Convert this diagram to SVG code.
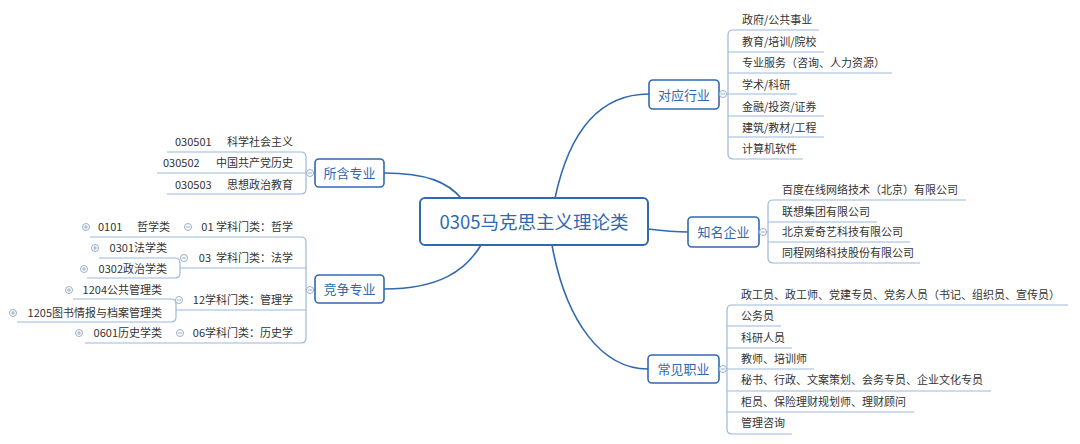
<svg xmlns="http://www.w3.org/2000/svg" width="1080" height="444" viewBox="0 0 1080 444">
<style>
.bg{fill:#ffffff}
.root{fill:#fff;stroke:#3069b0;stroke-width:2}
.main{fill:#fff;stroke:#3069b0;stroke-width:1.6}
.rt{font-family:"Noto Sans CJK SC","Microsoft YaHei",sans-serif;font-size:18.5px;fill:#3069b0;text-anchor:middle}
.mt{font-family:"Noto Sans CJK SC","Microsoft YaHei",sans-serif;font-size:13px;fill:#3069b0;text-anchor:middle}
.t{font-family:"Noto Sans CJK SC","Microsoft YaHei",sans-serif;font-size:11px;fill:#333}
.te{font-family:"Noto Sans CJK SC","Microsoft YaHei",sans-serif;font-size:11px;fill:#333;text-anchor:end}
.curve{fill:none;stroke:#3069b0;stroke-width:1.6}
.ul{fill:none;stroke:#9bb8de;stroke-width:1.2}
.cb{fill:#fff;stroke:#9aaec8;stroke-width:1}
.cm{stroke:#9aaec8;stroke-width:1}
</style>
<defs>
<g id="minus"><circle class="cb" r="3.5"/><line class="cm" x1="-2" y1="0" x2="2" y2="0"/></g>
<g id="plus"><circle class="cb" r="3.5"/><line class="cm" x1="-2" y1="0" x2="2" y2="0"/><line class="cm" x1="0" y1="-2" x2="0" y2="2"/></g>
</defs>
<rect class="bg" x="0" y="0" width="1080" height="444"/>

<g id="connectors">
<path class="curve" d="M384,173 C428,173 448,183 461,198"/>
<path class="curve" d="M384,289 C440,289 466,270 481,245"/>
<path class="curve" d="M555,198 C570,128 602,94 649,94"/>
<path class="curve" d="M648,229 C664,231 674,232 688,232"/>
<path class="curve" d="M552,245 C566,322 602,369 648,369"/>
<!-- 对应行业 bracket -->
<path class="ul" d="M719,94 H728 M733,30 Q728,30 728,35 V154 Q728,159 733,159"/>
<path class="ul" d="M733,30 H819 M728,52 H824 M728,73 H892 M728,94 H797 M728,116 H824 M728,137 H824 M733,159 H803"/>
<!-- 知名企业 bracket -->
<path class="ul" d="M759,232 H768 M773,200 Q768,200 768,205 V258 Q768,263 773,263"/>
<path class="ul" d="M773,200 H966 M768,222 H877 M768,242 H910 M773,263 H920"/>
<!-- 常见职业 bracket -->
<path class="ul" d="M719,369 H727 M732,305 Q727,305 727,310 V429 Q727,434 732,434"/>
<path class="ul" d="M732,305 H1068 M727,326 H781 M727,348 H792 M727,369 H814 M727,391 H991 M727,412 H914 M732,434 H792"/>
<!-- 所含专业 bracket -->
<path class="ul" d="M315,173 H306 M301,152 Q306,152 306,157 V189 Q306,194 301,194"/>
<path class="ul" d="M301,152 H167 M306,173 H157 M301,194 H167"/>
<!-- 竞争专业 bracket -->
<path class="ul" d="M315,290 H306 M301,237 Q306,237 306,242 V338 Q306,343 301,343"/>
<path class="ul" d="M301,237 H90 M306,268 H180 M306,310 H176 M301,343 H85"/>
<!-- 03 sub bracket -->
<path class="ul" d="M175,258 Q180,258 180,263 V273 Q180,278 175,278 M175,258 H99 M175,278 H87"/>
<!-- 12 sub bracket -->
<path class="ul" d="M171,299 Q176,299 176,304 V317 Q176,322 171,322 M171,299 H73 M171,322 H17"/>
</g>

<g id="root">
<rect class="root" x="420" y="198" width="228" height="47" rx="5"/>
<text class="rt" x="534" y="228.5">0305马克思主义理论类</text>
</g>

<g id="node-suohan">
<rect class="main" x="315" y="159" width="69" height="28" rx="4"/>
<text class="mt" x="349.5" y="178">所含专业</text>
<use href="#minus" x="310" y="173"/>
<text class="t" y="146"><tspan x="175">030501</tspan><tspan x="227">科学社会主义</tspan></text>
<text class="t" y="167"><tspan x="163">030502</tspan><tspan x="216">中国共产党历史</tspan></text>
<text class="t" y="189"><tspan x="175">030503</tspan><tspan x="227">思想政治教育</tspan></text>
</g>

<g id="node-jingzheng">
<rect class="main" x="315" y="275" width="69" height="28" rx="4"/>
<text class="mt" x="349.5" y="294">竞争专业</text>
<use href="#minus" x="310" y="290"/>
<g id="sub-01">
<use href="#minus" x="188" y="227"/>
<text class="te" x="293" y="231">01 学科门类：哲学</text>
<use href="#plus" x="86" y="227"/>
<text class="t" y="231"><tspan x="98">0101</tspan><tspan x="137">哲学类</tspan></text>
</g>
<g id="sub-03">
<use href="#minus" x="184" y="258"/>
<text class="te" x="293" y="262" xml:space="preserve">03  学科门类：法学</text>
<use href="#plus" x="95" y="248"/>
<text class="te" x="167" y="252">0301法学类</text>
<use href="#plus" x="84" y="269"/>
<text class="te" x="167" y="273">0302政治学类</text>
</g>
<g id="sub-12">
<use href="#minus" x="179" y="300"/>
<text class="te" x="293" y="304">12学科门类：管理学</text>
<use href="#plus" x="69" y="290"/>
<text class="te" x="162" y="294">1204公共管理类</text>
<use href="#plus" x="13" y="313"/>
<text class="te" x="162" y="317">1205图书情报与档案管理类</text>
</g>
<g id="sub-06">
<use href="#minus" x="180" y="333"/>
<text class="te" x="293" y="337">06学科门类：历史学</text>
<use href="#plus" x="79" y="333"/>
<text class="te" x="162" y="337">0601历史学类</text>
</g>
</g>

<g id="node-hangye">
<rect class="main" x="649" y="80" width="70" height="29" rx="4"/>
<text class="mt" x="684" y="99.5">对应行业</text>
<use href="#minus" x="723" y="94"/>
<text class="t" x="742" y="24">政府/公共事业</text>
<text class="t" x="742" y="46">教育/培训/院校</text>
<text class="t" x="742" y="67">专业服务（咨询、人力资源）</text>
<text class="t" x="742" y="89">学术/科研</text>
<text class="t" x="742" y="111">金融/投资/证券</text>
<text class="t" x="742" y="132">建筑/教材/工程</text>
<text class="t" x="742" y="153">计算机软件</text>
</g>

<g id="node-qiye">
<rect class="main" x="688" y="217" width="71" height="30" rx="4"/>
<text class="mt" x="723.5" y="237">知名企业</text>
<use href="#minus" x="763" y="232"/>
<text class="t" x="782" y="194">百度在线网络技术（北京）有限公司</text>
<text class="t" x="782" y="216">联想集团有限公司</text>
<text class="t" x="782" y="236">北京爱奇艺科技有限公司</text>
<text class="t" x="782" y="257">同程网络科技股份有限公司</text>
</g>

<g id="node-zhiye">
<rect class="main" x="648" y="355" width="71" height="28" rx="4"/>
<text class="mt" x="683.5" y="374">常见职业</text>
<use href="#minus" x="723" y="369"/>
<text class="t" x="741" y="299">政工员、政工师、党建专员、党务人员（书记、组织员、宣传员）</text>
<text class="t" x="741" y="320">公务员</text>
<text class="t" x="741" y="342">科研人员</text>
<text class="t" x="741" y="363">教师、培训师</text>
<text class="t" x="741" y="384">秘书、行政、文案策划、会务专员、企业文化专员</text>
<text class="t" x="741" y="406">柜员、保险理财规划师、理财顾问</text>
<text class="t" x="741" y="427">管理咨询</text>
</g>
</svg>
